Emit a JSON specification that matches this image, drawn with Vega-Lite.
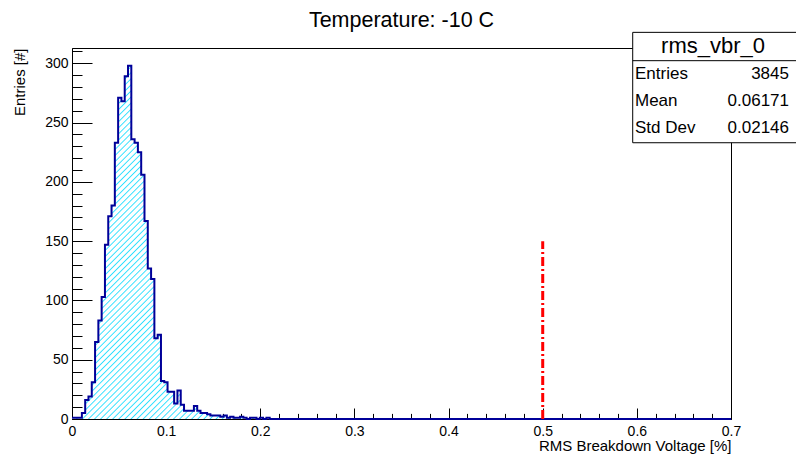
{
  "$schema": "https://vega.github.io/schema/vega-lite/v6.json",
  "autosize": "none",
  "width": 659,
  "height": 371,
  "padding": {"left": 72, "top": 48, "right": 65, "bottom": 35},
  "background": "white",
  "title": {"text": "Temperature: -10 C", "fontSize": 21.5, "fontWeight": "normal", "font": "Liberation Sans", "anchor": "middle", "baseline": "alphabetic", "offset": -17, "color": "black"},
  "datasets": {
    "hist": [
      {"x":0,"n":1},{"x":0.0035,"n":1},{"x":0.007,"n":1},{"x":0.0105,"n":5},{"x":0.014,"n":16},
      {"x":0.0175,"n":19},{"x":0.021,"n":31},{"x":0.0245,"n":65},{"x":0.028,"n":83},{"x":0.0315,"n":103},
      {"x":0.035,"n":147},{"x":0.0385,"n":171},{"x":0.042,"n":180},{"x":0.0455,"n":233},{"x":0.049,"n":271},
      {"x":0.0525,"n":268},{"x":0.056,"n":289},{"x":0.0595,"n":298},{"x":0.063,"n":236},{"x":0.0665,"n":233},
      {"x":0.07,"n":225},{"x":0.0735,"n":206},{"x":0.077,"n":167},{"x":0.0805,"n":127},{"x":0.084,"n":118},
      {"x":0.0875,"n":68},{"x":0.091,"n":71},{"x":0.0945,"n":32},{"x":0.098,"n":31},{"x":0.1015,"n":23},
      {"x":0.105,"n":23},{"x":0.1085,"n":13},{"x":0.112,"n":24},{"x":0.1155,"n":12},{"x":0.119,"n":7},
      {"x":0.1225,"n":7},{"x":0.126,"n":7},{"x":0.1295,"n":11},{"x":0.133,"n":7},{"x":0.1365,"n":5},
      {"x":0.14,"n":5},{"x":0.1435,"n":4},{"x":0.147,"n":3},{"x":0.1505,"n":3},{"x":0.154,"n":3},
      {"x":0.1575,"n":2},{"x":0.161,"n":3},{"x":0.1645,"n":1},{"x":0.168,"n":2},{"x":0.1715,"n":1},
      {"x":0.175,"n":1},{"x":0.1785,"n":2},{"x":0.182,"n":1},{"x":0.1855,"n":0},{"x":0.189,"n":1},
      {"x":0.1925,"n":1},{"x":0.196,"n":0},{"x":0.1995,"n":1},{"x":0.203,"n":0},{"x":0.2065,"n":1},
      {"x":0.21,"n":0},{"x":0.2135,"n":0},{"x":0.217,"n":0},{"x":0.2205,"n":0},{"x":0.224,"n":0},
      {"x":0.2275,"n":0},{"x":0.231,"n":0},{"x":0.2345,"n":0},{"x":0.238,"n":0},{"x":0.2415,"n":0},
      {"x":0.245,"n":0},{"x":0.2485,"n":0},{"x":0.252,"n":0},{"x":0.2555,"n":0},{"x":0.259,"n":0},
      {"x":0.2625,"n":0},{"x":0.266,"n":0},{"x":0.2695,"n":0},{"x":0.273,"n":0},{"x":0.2765,"n":0},
      {"x":0.28,"n":0},{"x":0.2835,"n":0},{"x":0.287,"n":0},{"x":0.2905,"n":0},{"x":0.294,"n":0},
      {"x":0.2975,"n":0},{"x":0.301,"n":0},{"x":0.3045,"n":0},{"x":0.308,"n":0},{"x":0.3115,"n":0},
      {"x":0.315,"n":0},{"x":0.3185,"n":0},{"x":0.322,"n":0},{"x":0.3255,"n":0},{"x":0.329,"n":0},
      {"x":0.3325,"n":0},{"x":0.336,"n":0},{"x":0.3395,"n":0},{"x":0.343,"n":0},{"x":0.3465,"n":0},
      {"x":0.35,"n":0},{"x":0.3535,"n":0},{"x":0.357,"n":0},{"x":0.3605,"n":0},{"x":0.364,"n":0},
      {"x":0.3675,"n":0},{"x":0.371,"n":0},{"x":0.3745,"n":0},{"x":0.378,"n":0},{"x":0.3815,"n":0},
      {"x":0.385,"n":0},{"x":0.3885,"n":0},{"x":0.392,"n":0},{"x":0.3955,"n":0},{"x":0.399,"n":0},
      {"x":0.4025,"n":0},{"x":0.406,"n":0},{"x":0.4095,"n":0},{"x":0.413,"n":0},{"x":0.4165,"n":0},
      {"x":0.42,"n":0},{"x":0.4235,"n":0},{"x":0.427,"n":0},{"x":0.4305,"n":0},{"x":0.434,"n":0},
      {"x":0.4375,"n":0},{"x":0.441,"n":0},{"x":0.4445,"n":0},{"x":0.448,"n":0},{"x":0.4515,"n":0},
      {"x":0.455,"n":0},{"x":0.4585,"n":0},{"x":0.462,"n":0},{"x":0.4655,"n":0},{"x":0.469,"n":0},
      {"x":0.4725,"n":0},{"x":0.476,"n":0},{"x":0.4795,"n":0},{"x":0.483,"n":0},{"x":0.4865,"n":0},
      {"x":0.49,"n":0},{"x":0.4935,"n":0},{"x":0.497,"n":0},{"x":0.5005,"n":0},{"x":0.504,"n":0},
      {"x":0.5075,"n":0},{"x":0.511,"n":0},{"x":0.5145,"n":0},{"x":0.518,"n":0},{"x":0.5215,"n":0},
      {"x":0.525,"n":0},{"x":0.5285,"n":0},{"x":0.532,"n":0},{"x":0.5355,"n":0},{"x":0.539,"n":0},
      {"x":0.5425,"n":0},{"x":0.546,"n":0},{"x":0.5495,"n":0},{"x":0.553,"n":0},{"x":0.5565,"n":0},
      {"x":0.56,"n":0},{"x":0.5635,"n":0},{"x":0.567,"n":0},{"x":0.5705,"n":0},{"x":0.574,"n":0},
      {"x":0.5775,"n":0},{"x":0.581,"n":0},{"x":0.5845,"n":0},{"x":0.588,"n":0},{"x":0.5915,"n":0},
      {"x":0.595,"n":0},{"x":0.5985,"n":0},{"x":0.602,"n":0},{"x":0.6055,"n":0},{"x":0.609,"n":0},
      {"x":0.6125,"n":0},{"x":0.616,"n":0},{"x":0.6195,"n":0},{"x":0.623,"n":0},{"x":0.6265,"n":0},
      {"x":0.63,"n":0},{"x":0.6335,"n":0},{"x":0.637,"n":0},{"x":0.6405,"n":0},{"x":0.644,"n":0},
      {"x":0.6475,"n":0},{"x":0.651,"n":0},{"x":0.6545,"n":0},{"x":0.658,"n":0},{"x":0.6615,"n":0},
      {"x":0.665,"n":0},{"x":0.6685,"n":0},{"x":0.672,"n":0},{"x":0.6755,"n":0},{"x":0.679,"n":0},
      {"x":0.6825,"n":0},{"x":0.686,"n":0},{"x":0.6895,"n":0},{"x":0.693,"n":0},{"x":0.6965,"n":0},
      {"x":0.7,"n":0}
    ]
  },
  "resolve": {"axis": {"x": "independent", "y": "independent"}},
  "layer": [
    {
      "data": {"name": "hist"},
      "mark": {"type": "area", "interpolate": "step-after",
        "fill": {"gradient": "linear", "x1": 0, "y1": 0, "x2": 1.1932, "y2": 0.6397, "stops": [
          {"offset":0.04,"color":"white"},{"offset":0.0413,"color":"#2ee0ff"},{"offset":0.0426,"color":"white"},
          {"offset":0.046,"color":"white"},{"offset":0.0473,"color":"#2ee0ff"},{"offset":0.0486,"color":"white"},
          {"offset":0.052,"color":"white"},{"offset":0.0533,"color":"#2ee0ff"},{"offset":0.0546,"color":"white"},
          {"offset":0.058,"color":"white"},{"offset":0.0593,"color":"#2ee0ff"},{"offset":0.0606,"color":"white"},
          {"offset":0.064,"color":"white"},{"offset":0.0653,"color":"#2ee0ff"},{"offset":0.0666,"color":"white"},
          {"offset":0.07,"color":"white"},{"offset":0.0713,"color":"#2ee0ff"},{"offset":0.0726,"color":"white"},
          {"offset":0.076,"color":"white"},{"offset":0.0773,"color":"#2ee0ff"},{"offset":0.0786,"color":"white"},
          {"offset":0.082,"color":"white"},{"offset":0.0833,"color":"#2ee0ff"},{"offset":0.0846,"color":"white"},
          {"offset":0.088,"color":"white"},{"offset":0.0893,"color":"#2ee0ff"},{"offset":0.0906,"color":"white"},
          {"offset":0.094,"color":"white"},{"offset":0.0953,"color":"#2ee0ff"},{"offset":0.0966,"color":"white"},
          {"offset":0.1,"color":"white"},{"offset":0.1013,"color":"#2ee0ff"},{"offset":0.1026,"color":"white"},
          {"offset":0.106,"color":"white"},{"offset":0.1073,"color":"#2ee0ff"},{"offset":0.1086,"color":"white"},
          {"offset":0.112,"color":"white"},{"offset":0.1133,"color":"#2ee0ff"},{"offset":0.1146,"color":"white"},
          {"offset":0.118,"color":"white"},{"offset":0.1193,"color":"#2ee0ff"},{"offset":0.1206,"color":"white"},
          {"offset":0.124,"color":"white"},{"offset":0.1253,"color":"#2ee0ff"},{"offset":0.1266,"color":"white"},
          {"offset":0.13,"color":"white"},{"offset":0.1313,"color":"#2ee0ff"},{"offset":0.1326,"color":"white"},
          {"offset":0.136,"color":"white"},{"offset":0.1373,"color":"#2ee0ff"},{"offset":0.1386,"color":"white"},
          {"offset":0.142,"color":"white"},{"offset":0.1433,"color":"#2ee0ff"},{"offset":0.1446,"color":"white"},
          {"offset":0.148,"color":"white"},{"offset":0.1493,"color":"#2ee0ff"},{"offset":0.1506,"color":"white"},
          {"offset":0.154,"color":"white"},{"offset":0.1553,"color":"#2ee0ff"},{"offset":0.1566,"color":"white"},
          {"offset":0.16,"color":"white"},{"offset":0.1613,"color":"#2ee0ff"},{"offset":0.1626,"color":"white"},
          {"offset":0.166,"color":"white"},{"offset":0.1673,"color":"#2ee0ff"},{"offset":0.1686,"color":"white"},
          {"offset":0.172,"color":"white"},{"offset":0.1733,"color":"#2ee0ff"},{"offset":0.1746,"color":"white"},
          {"offset":0.178,"color":"white"},{"offset":0.1793,"color":"#2ee0ff"},{"offset":0.1806,"color":"white"},
          {"offset":0.184,"color":"white"},{"offset":0.1853,"color":"#2ee0ff"},{"offset":0.1866,"color":"white"},
          {"offset":0.19,"color":"white"},{"offset":0.1913,"color":"#2ee0ff"},{"offset":0.1926,"color":"white"},
          {"offset":0.196,"color":"white"},{"offset":0.1973,"color":"#2ee0ff"},{"offset":0.1986,"color":"white"},
          {"offset":0.202,"color":"white"},{"offset":0.2033,"color":"#2ee0ff"},{"offset":0.2046,"color":"white"},
          {"offset":0.208,"color":"white"},{"offset":0.2093,"color":"#2ee0ff"},{"offset":0.2106,"color":"white"},
          {"offset":0.214,"color":"white"},{"offset":0.2153,"color":"#2ee0ff"},{"offset":0.2166,"color":"white"},
          {"offset":0.22,"color":"white"},{"offset":0.2213,"color":"#2ee0ff"},{"offset":0.2226,"color":"white"},
          {"offset":0.226,"color":"white"},{"offset":0.2273,"color":"#2ee0ff"},{"offset":0.2286,"color":"white"},
          {"offset":0.232,"color":"white"},{"offset":0.2333,"color":"#2ee0ff"},{"offset":0.2346,"color":"white"},
          {"offset":0.238,"color":"white"},{"offset":0.2393,"color":"#2ee0ff"},{"offset":0.2406,"color":"white"},
          {"offset":0.244,"color":"white"},{"offset":0.2453,"color":"#2ee0ff"},{"offset":0.2466,"color":"white"},
          {"offset":0.25,"color":"white"},{"offset":0.2513,"color":"#2ee0ff"},{"offset":0.2526,"color":"white"},
          {"offset":0.256,"color":"white"},{"offset":0.2573,"color":"#2ee0ff"},{"offset":0.2586,"color":"white"},
          {"offset":0.262,"color":"white"},{"offset":0.2633,"color":"#2ee0ff"},{"offset":0.2646,"color":"white"},
          {"offset":0.268,"color":"white"},{"offset":0.2693,"color":"#2ee0ff"},{"offset":0.2706,"color":"white"},
          {"offset":0.274,"color":"white"},{"offset":0.2753,"color":"#2ee0ff"},{"offset":0.2766,"color":"white"},
          {"offset":0.28,"color":"white"},{"offset":0.2813,"color":"#2ee0ff"},{"offset":0.2826,"color":"white"},
          {"offset":0.286,"color":"white"},{"offset":0.2873,"color":"#2ee0ff"},{"offset":0.2886,"color":"white"},
          {"offset":0.292,"color":"white"},{"offset":0.2933,"color":"#2ee0ff"},{"offset":0.2946,"color":"white"},
          {"offset":0.298,"color":"white"},{"offset":0.2993,"color":"#2ee0ff"},{"offset":0.3006,"color":"white"},
          {"offset":0.304,"color":"white"},{"offset":0.3053,"color":"#2ee0ff"},{"offset":0.3066,"color":"white"},
          {"offset":0.31,"color":"white"},{"offset":0.3113,"color":"#2ee0ff"},{"offset":0.3126,"color":"white"},
          {"offset":0.316,"color":"white"},{"offset":0.3173,"color":"#2ee0ff"},{"offset":0.3186,"color":"white"},
          {"offset":0.322,"color":"white"},{"offset":0.3233,"color":"#2ee0ff"},{"offset":0.3246,"color":"white"},
          {"offset":0.328,"color":"white"},{"offset":0.3293,"color":"#2ee0ff"},{"offset":0.3306,"color":"white"},
          {"offset":0.334,"color":"white"},{"offset":0.3353,"color":"#2ee0ff"},{"offset":0.3366,"color":"white"},
          {"offset":0.34,"color":"white"},{"offset":0.3413,"color":"#2ee0ff"},{"offset":0.3426,"color":"white"},
          {"offset":0.346,"color":"white"},{"offset":0.3473,"color":"#2ee0ff"},{"offset":0.3486,"color":"white"},
          {"offset":0.352,"color":"white"},{"offset":0.3533,"color":"#2ee0ff"},{"offset":0.3546,"color":"white"},
          {"offset":0.358,"color":"white"},{"offset":0.3593,"color":"#2ee0ff"},{"offset":0.3606,"color":"white"},
          {"offset":0.364,"color":"white"},{"offset":0.3653,"color":"#2ee0ff"},{"offset":0.3666,"color":"white"},
          {"offset":0.37,"color":"white"},{"offset":0.3713,"color":"#2ee0ff"},{"offset":0.3726,"color":"white"},
          {"offset":0.376,"color":"white"},{"offset":0.3773,"color":"#2ee0ff"},{"offset":0.3786,"color":"white"},
          {"offset":0.382,"color":"white"},{"offset":0.3833,"color":"#2ee0ff"},{"offset":0.3846,"color":"white"},
          {"offset":0.388,"color":"white"},{"offset":0.3893,"color":"#2ee0ff"},{"offset":0.3906,"color":"white"},
          {"offset":0.394,"color":"white"},{"offset":0.3953,"color":"#2ee0ff"},{"offset":0.3966,"color":"white"},
          {"offset":0.4,"color":"white"},{"offset":0.4013,"color":"#2ee0ff"},{"offset":0.4026,"color":"white"},
          {"offset":0.406,"color":"white"},{"offset":0.4073,"color":"#2ee0ff"},{"offset":0.4086,"color":"white"},
          {"offset":0.412,"color":"white"},{"offset":0.4133,"color":"#2ee0ff"},{"offset":0.4146,"color":"white"},
          {"offset":0.418,"color":"white"},{"offset":0.4193,"color":"#2ee0ff"},{"offset":0.4206,"color":"white"},
          {"offset":0.424,"color":"white"},{"offset":0.4253,"color":"#2ee0ff"},{"offset":0.4266,"color":"white"},
          {"offset":0.43,"color":"white"},{"offset":0.4313,"color":"#2ee0ff"},{"offset":0.4326,"color":"white"},
          {"offset":0.436,"color":"white"},{"offset":0.4373,"color":"#2ee0ff"},{"offset":0.4386,"color":"white"},
          {"offset":0.442,"color":"white"},{"offset":0.4433,"color":"#2ee0ff"},{"offset":0.4446,"color":"white"},
          {"offset":0.448,"color":"white"},{"offset":0.4493,"color":"#2ee0ff"},{"offset":0.4506,"color":"white"},
          {"offset":0.454,"color":"white"},{"offset":0.4553,"color":"#2ee0ff"},{"offset":0.4566,"color":"white"},
          {"offset":0.46,"color":"white"},{"offset":0.4613,"color":"#2ee0ff"},{"offset":0.4626,"color":"white"},
          {"offset":0.466,"color":"white"},{"offset":0.4673,"color":"#2ee0ff"},{"offset":0.4686,"color":"white"},
          {"offset":0.472,"color":"white"},{"offset":0.4733,"color":"#2ee0ff"},{"offset":0.4746,"color":"white"},
          {"offset":0.478,"color":"white"},{"offset":0.4793,"color":"#2ee0ff"},{"offset":0.4806,"color":"white"},
          {"offset":0.484,"color":"white"},{"offset":0.4853,"color":"#2ee0ff"},{"offset":0.4866,"color":"white"},
          {"offset":0.49,"color":"white"},{"offset":0.4913,"color":"#2ee0ff"},{"offset":0.4926,"color":"white"},
          {"offset":0.496,"color":"white"},{"offset":0.4973,"color":"#2ee0ff"},{"offset":0.4986,"color":"white"},
          {"offset":0.502,"color":"white"},{"offset":0.5033,"color":"#2ee0ff"},{"offset":0.5046,"color":"white"},
          {"offset":0.508,"color":"white"},{"offset":0.5093,"color":"#2ee0ff"},{"offset":0.5106,"color":"white"},
          {"offset":0.514,"color":"white"},{"offset":0.5153,"color":"#2ee0ff"},{"offset":0.5166,"color":"white"},
          {"offset":0.52,"color":"white"},{"offset":0.5213,"color":"#2ee0ff"},{"offset":0.5226,"color":"white"},
          {"offset":0.526,"color":"white"},{"offset":0.5273,"color":"#2ee0ff"},{"offset":0.5286,"color":"white"},
          {"offset":0.532,"color":"white"},{"offset":0.5333,"color":"#2ee0ff"},{"offset":0.5346,"color":"white"},
          {"offset":0.538,"color":"white"},{"offset":0.5393,"color":"#2ee0ff"},{"offset":0.5406,"color":"white"},
          {"offset":0.544,"color":"white"},{"offset":0.5453,"color":"#2ee0ff"},{"offset":0.5466,"color":"white"},
          {"offset":0.55,"color":"white"},{"offset":0.5513,"color":"#2ee0ff"},{"offset":0.5526,"color":"white"},
          {"offset":0.556,"color":"white"},{"offset":0.5573,"color":"#2ee0ff"},{"offset":0.5586,"color":"white"}
        ]}
      },
      "encoding": {
        "x": {"field": "x", "type": "quantitative", "scale": {"domain": [0, 0.7], "nice": false, "zero": false},
          "axis": {"orient": "bottom", "values": [0, 0.1, 0.2, 0.3, 0.4, 0.5, 0.6, 0.7], "format": "~g", "tickSize": -11, "labelPadding": 16, "labelFlush": false, "labelOverlap": false, "labelFontSize": 14, "title": "RMS Breakdown Voltage [%]", "titleAnchor": "end", "titleFontSize": 15, "titlePadding": 0}},
        "y": {"field": "n", "type": "quantitative", "scale": {"domain": [0, 312.9], "nice": false},
          "axis": {"orient": "left", "values": [0, 50, 100, 150, 200, 250, 300], "format": "d", "tickSize": -20, "labelPadding": 24, "labelOverlap": false, "labelFontSize": 14, "title": "Entries [#]", "titleAnchor": "end", "titleFontSize": 15, "titlePadding": 17}}
      }
    },
    {
      "data": {"name": "hist"},
      "mark": {"type": "line", "interpolate": "step-after", "stroke": "#000099", "strokeWidth": 2},
      "encoding": {
        "x": {"field": "x", "type": "quantitative", "scale": {"domain": [0, 0.7], "nice": false, "zero": false},
          "axis": {"orient": "bottom", "values": [0.02,0.04,0.06,0.08,0.12,0.14,0.16,0.18,0.22,0.24,0.26,0.28,0.32,0.34,0.36,0.38,0.42,0.44,0.46,0.48,0.52,0.54,0.56,0.58,0.62,0.64,0.66,0.68], "tickSize": -5.6, "labels": false, "domain": false, "title": null}},
        "y": {"field": "n", "type": "quantitative", "scale": {"domain": [0, 312.9], "nice": false},
          "axis": {"orient": "left", "values": [10,20,30,40,60,70,80,90,110,120,130,140,160,170,180,190,210,220,230,240,260,270,280,290,310], "tickSize": -10, "labels": false, "domain": false, "title": null}}
      }
    },
    {
      "data": {"values": [{"cut": 0.5}]},
      "mark": {"type": "rule", "stroke": "#ff0000", "strokeWidth": 3, "strokeDash": [9, 3, 2, 3]},
      "encoding": {
        "x": {"field": "cut", "type": "quantitative", "axis": null},
        "y": {"datum": 0, "type": "quantitative", "axis": null},
        "y2": {"datum": 150}
      }
    },
    {
      "data": {"values": [{}]},
      "mark": {"type": "rect", "fill": "white", "stroke": "black", "strokeWidth": 1, "clip": false},
      "encoding": {
        "x": {"datum": 0.5956, "type": "quantitative", "axis": null},
        "x2": {"datum": 0.78},
        "y": {"datum": 326.1, "type": "quantitative", "axis": null},
        "y2": {"datum": 233.0}
      }
    },
    {
      "data": {"values": [{}]},
      "mark": {"type": "rule", "stroke": "black", "strokeWidth": 1},
      "encoding": {
        "x": {"datum": 0.5956, "type": "quantitative", "axis": null},
        "x2": {"datum": 0.78},
        "y": {"datum": 302.2, "type": "quantitative", "axis": null}
      }
    },
    {
      "data": {"values": [{"name": "rms_vbr_0"}]},
      "mark": {"type": "text", "align": "center", "baseline": "middle", "fontSize": 22, "font": "Liberation Sans", "color": "black"},
      "encoding": {
        "x": {"datum": 0.6809, "type": "quantitative", "axis": null},
        "y": {"datum": 314.6, "type": "quantitative", "axis": null},
        "text": {"field": "name"}
      }
    },
    {
      "data": {"values": [{"stat": "Entries", "val": "3845"}]},
      "encoding": {"y": {"datum": 291.0, "type": "quantitative", "axis": null}},
      "layer": [
        {"mark": {"type": "text", "align": "left", "baseline": "middle", "fontSize": 17, "font": "Liberation Sans", "color": "black"},
         "encoding": {"x": {"datum": 0.598, "type": "quantitative", "axis": null}, "text": {"field": "stat"}}},
        {"mark": {"type": "text", "align": "right", "baseline": "middle", "fontSize": 17, "font": "Liberation Sans", "color": "black"},
         "encoding": {"x": {"datum": 0.7616, "type": "quantitative", "axis": null}, "text": {"field": "val"}}}
      ]
    },
    {
      "data": {"values": [{"stat": "Mean", "val": "0.06171"}]},
      "encoding": {"y": {"datum": 268.2, "type": "quantitative", "axis": null}},
      "layer": [
        {"mark": {"type": "text", "align": "left", "baseline": "middle", "fontSize": 17, "font": "Liberation Sans", "color": "black"},
         "encoding": {"x": {"datum": 0.598, "type": "quantitative", "axis": null}, "text": {"field": "stat"}}},
        {"mark": {"type": "text", "align": "right", "baseline": "middle", "fontSize": 17, "font": "Liberation Sans", "color": "black"},
         "encoding": {"x": {"datum": 0.7616, "type": "quantitative", "axis": null}, "text": {"field": "val"}}}
      ]
    },
    {
      "data": {"values": [{"stat": "Std Dev", "val": "0.02146"}]},
      "encoding": {"y": {"datum": 245.4, "type": "quantitative", "axis": null}},
      "layer": [
        {"mark": {"type": "text", "align": "left", "baseline": "middle", "fontSize": 17, "font": "Liberation Sans", "color": "black"},
         "encoding": {"x": {"datum": 0.598, "type": "quantitative", "axis": null}, "text": {"field": "stat"}}},
        {"mark": {"type": "text", "align": "right", "baseline": "middle", "fontSize": 17, "font": "Liberation Sans", "color": "black"},
         "encoding": {"x": {"datum": 0.7616, "type": "quantitative", "axis": null}, "text": {"field": "val"}}}
      ]
    }
  ],
  "config": {
    "font": "Liberation Sans",
    "view": {"stroke": "black", "strokeWidth": 1},
    "axis": {"grid": false, "zindex": 1, "domainColor": "black", "tickColor": "black", "tickWidth": 1, "labelColor": "black", "labelFont": "Liberation Sans", "titleFont": "Liberation Sans", "titleColor": "black", "titleFontWeight": "normal"}
  }
}
